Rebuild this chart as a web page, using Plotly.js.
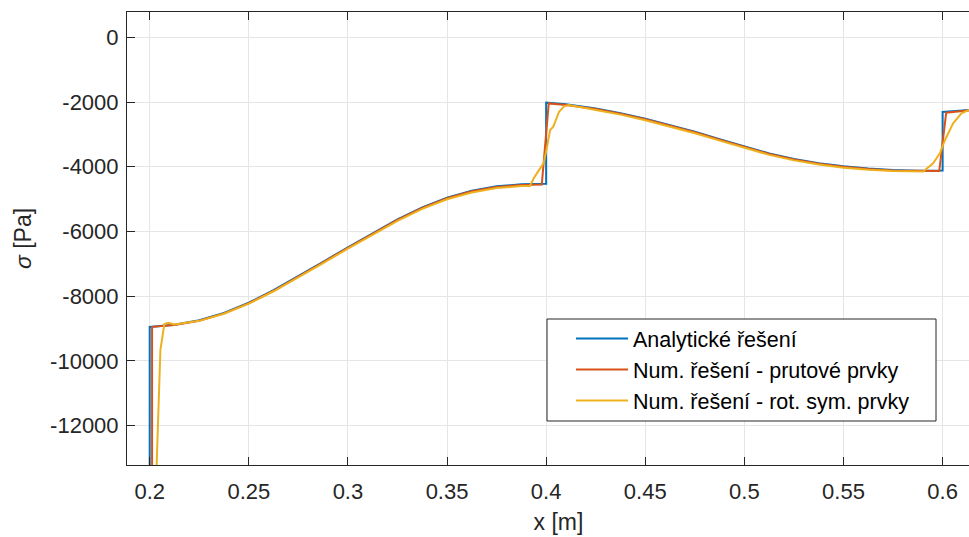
<!DOCTYPE html>
<html>
<head>
<meta charset="utf-8">
<script src="https://cdn.plot.ly/plotly-3.0.1.min.js"></script>
<style>
html,body{margin:0;padding:0;overflow:hidden;background:#fff;}
#chart{width:1000px;height:537px;}
</style>
</head>
<body>
<div id="chart"></div>
<script>
// ---- data ----
const seriesNames = ["Analytické řešení", "Num. řešení - prutové prvky", "Num. řešení - rot. sym. prvky"];

const analyticX = [0.2, 0.2, 0.2125, 0.225, 0.2375, 0.25, 0.2625, 0.275, 0.2875, 0.3, 0.3125, 0.325, 0.3375, 0.35, 0.3625, 0.375, 0.3875, 0.4,
  0.4, 0.41, 0.425, 0.4375, 0.45, 0.4625, 0.475, 0.4875, 0.5, 0.5125, 0.525, 0.5375, 0.55, 0.5625, 0.575, 0.5875, 0.6,
  0.6, 0.61, 0.62];
const analyticY = [-20000, -8955, -8885, -8745, -8520, -8204, -7819, -7389, -6939, -6491, -6046, -5626, -5256, -4956, -4741, -4606, -4546, -4528,
  -2021, -2070, -2200, -2345, -2520, -2710, -2920, -3150, -3381, -3590, -3760, -3890, -3985, -4055, -4100, -4122, -4120,
  -2309, -2263, -2215];

const barX = [0.2012, 0.2012, 0.2125, 0.225, 0.2375, 0.25, 0.2625, 0.275, 0.2875, 0.3, 0.3125, 0.325, 0.3375, 0.35, 0.3625, 0.375, 0.3875, 0.3978,
  0.4013, 0.41, 0.425, 0.4375, 0.45, 0.4625, 0.475, 0.4875, 0.5, 0.5125, 0.525, 0.5375, 0.55, 0.5625, 0.575, 0.5875, 0.5983,
  0.6018, 0.61, 0.62];
const barY = [-20000, -8950, -8895, -8760, -8535, -8220, -7835, -7405, -6955, -6507, -6062, -5642, -5273, -4974, -4760, -4626, -4566, -4548,
  -2045, -2090, -2215, -2360, -2535, -2725, -2935, -3165, -3395, -3605, -3775, -3905, -4000, -4070, -4115, -4137, -4135,
  -2330, -2275, -2232];

const rotX = [0.2, 0.2054, 0.2074, 0.2094, 0.2125, 0.225, 0.2375, 0.25, 0.2625, 0.275, 0.2875, 0.3, 0.3125, 0.325, 0.3375, 0.35, 0.3625, 0.375, 0.3875,
  0.3918, 0.394, 0.3965, 0.3988, 0.4003, 0.402, 0.4036, 0.4065, 0.409, 0.4115, 0.425, 0.4375, 0.45, 0.4625, 0.475, 0.4875, 0.5, 0.5125, 0.525, 0.5375, 0.55, 0.5625, 0.575, 0.5875,
  0.5902, 0.5952, 0.5986, 0.6012, 0.6053, 0.6095, 0.6133, 0.62];
const rotY = [-19800, -9660, -8862, -8822, -8878, -8765, -8545, -8232, -7850, -7425, -6978, -6532, -6090, -5672, -5305, -5008, -4795, -4662, -4600,
  -4597, -4330, -4110, -3880, -3430, -2865, -2763, -2300, -2135, -2095, -2245, -2390, -2565, -2755, -2965, -3195, -3425, -3635, -3805, -3935, -4030, -4095, -4135, -4150,
  -4150, -3895, -3586, -3175, -2659, -2349, -2247, -2220];

const xTickVals = [0.2, 0.25, 0.3, 0.35, 0.4, 0.45, 0.5, 0.55, 0.6];
const xTickText = ["0.2", "0.25", "0.3", "0.35", "0.4", "0.45", "0.5", "0.55", "0.6"];
const yTickVals = [0, -2000, -4000, -6000, -8000, -10000, -12000];
const yTickText = ["0", "-2000", "-4000", "-6000", "-8000", "-10000", "-12000"];

const colors = ["#0072BD", "#D95319", "#EDB120"];

// ---- chart ----
const font = "Liberation Sans, Arial, Helvetica, sans-serif";
const axisCol = "#262626";
const traces = [
  {x: analyticX, y: analyticY, name: seriesNames[0], legendgroup: "a"},
  {x: barX, y: barY, name: seriesNames[1], legendgroup: "b"},
  {x: rotX, y: rotY, name: seriesNames[2], legendgroup: "c"}
].map((t, i) => Object.assign(t, {type: "scatter", mode: "lines", line: {color: colors[i], width: 2}}));

const plotW = 863, plotH = 453;
const layout = {
  width: 1000, height: 537,
  margin: {l: 127, r: 10, t: 12, b: 72},
  paper_bgcolor: "#fff", plot_bgcolor: "#fff",
  font: {family: font, size: 22, color: axisCol},
  showlegend: true,
  legend: {
    x: (571 - 127) / plotW, y: (465 - 318) / plotH, xanchor: "left", yanchor: "top",
    bgcolor: "rgba(0,0,0,0)", borderwidth: 0,
    font: {family: font, size: 21.5, color: "#000"},
    tracegroupgap: 0, itemwidth: 52
  },
  shapes: [{
    type: "rect", xref: "paper", yref: "paper", layer: "above",
    x0: (547 - 127) / plotW, x1: (936 - 127) / plotW,
    y0: (465 - 421) / plotH, y1: (465 - 319) / plotH,
    fillcolor: "#fff", line: {color: axisCol, width: 1}
  }],
  xaxis: {
    range: [0.18855, 0.6239],
    tickvals: xTickVals, ticktext: xTickText,
    ticks: "inside", ticklen: 8, tickcolor: axisCol, tickwidth: 1,
    showline: true, linecolor: axisCol, linewidth: 1, mirror: "ticks",
    showgrid: true, gridcolor: "#e5e5e5", gridwidth: 1, zeroline: false,
    tickfont: {family: font, size: 22, color: axisCol}, ticklabelstandoff: 7,
    title: {text: "x [m]", font: {family: font, size: 23, color: axisCol}, standoff: 10}
  },
  yaxis: {
    range: [-13221, 782],
    tickvals: yTickVals, ticktext: yTickText,
    ticks: "inside", ticklen: 8, tickcolor: axisCol, tickwidth: 1,
    showline: true, linecolor: axisCol, linewidth: 1, mirror: "ticks",
    showgrid: true, gridcolor: "#e5e5e5", gridwidth: 1, zeroline: false,
    tickfont: {family: font, size: 22, color: axisCol}, ticklabelstandoff: 3,
    title: {text: "<i>σ</i> [Pa]", font: {family: font, size: 23, color: axisCol}, standoff: 12}
  }
};

Plotly.newPlot("chart", traces, layout, {displayModeBar: false, staticPlot: true});
</script>
</body>
</html>
